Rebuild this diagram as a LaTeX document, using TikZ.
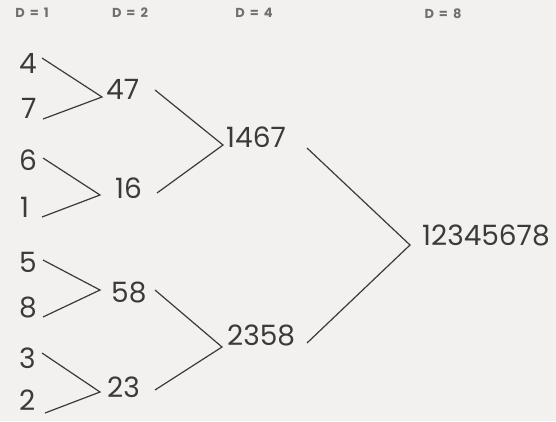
\documentclass[tikz,border=0pt]{standalone}
\usepackage{fontspec}
\setmainfont{Poppins}
\definecolor{bg}{HTML}{F3F1EF}
\definecolor{ink}{HTML}{3A3A3A}
\definecolor{hdr}{HTML}{707070}
\newcommand{\hdtext}[1]{D\hspace{5pt}=\hspace{5pt}#1}
\begin{document}
\begin{tikzpicture}[x=1pt,y=-1pt,
  num/.style={inner sep=0pt,anchor=west,text=ink,font=\fontsize{28}{28}\selectfont},
  hd/.style={inner sep=0pt,text=hdr,font=\fontsize{13}{13}\selectfont\bfseries},
  link/.style={draw=ink,line width=1.2pt}]
\fill[bg] (0,0) rectangle (556,421);
\useasboundingbox (0,0) rectangle (556,421);
% headers
\node[hd] (h1) at (32,13) {\hdtext{1}};
\node[hd] (h2) at (130,13) {\hdtext{2}};
\node[hd] (h4) at (254,13) {\hdtext{4}};
\node[hd] (h8) at (443,14) {\hdtext{8}};
% leaves
\node[num] (n4) at (19,63) {4};
\node[num] (n7) at (21,108) {7};
\node[num] (n6) at (19,160) {6};
\node[num] (n1) at (20,207) {1};
\node[num] (n5) at (19,262) {5};
\node[num] (n8) at (19,307) {8};
\node[num] (n3) at (19,358) {3};
\node[num] (n2) at (19,400) {2};
% level 2
\node[num] (n47) at (106,89) {47};
\node[num] (n16) at (115,188) {16};
\node[num] (n58) at (111,292) {58};
\node[num] (n23) at (107,387) {23};
% level 3
\node[num] (n1467) at (226,137) {1467};
\node[num] (n2358) at (227,335) {2358};
% level 4
\node[num] (nall) at (422,235) {12345678};
% vertices
\coordinate (v47) at (102,97);
\coordinate (v16) at (100,195);
\coordinate (v58) at (100,290);
\coordinate (v23) at (100,392);
\coordinate (v1467) at (223,145);
\coordinate (v2358) at (222,347);
\coordinate (vall) at (410,245);
% connectors
\draw[link] (42,58) coordinate (s4) -- (v47) -- (43,119) coordinate (s7);
\draw[link] (43,158) coordinate (s6) -- (v16) -- (42,217) coordinate (s1);
\draw[link] (43,260) coordinate (s5) -- (v58) -- (43,317) coordinate (s8);
\draw[link] (42,353) coordinate (s3) -- (v23) -- (45,413) coordinate (s2);
\draw[link] (155,90) coordinate (s47) -- (v1467) -- (157,193) coordinate (s16);
\draw[link] (155,290) coordinate (s58) -- (v2358) -- (155,390) coordinate (s23);
\draw[link] (307,148) coordinate (s1467) -- (vall) -- (307,343) coordinate (s2358);
\end{tikzpicture}
\end{document}
